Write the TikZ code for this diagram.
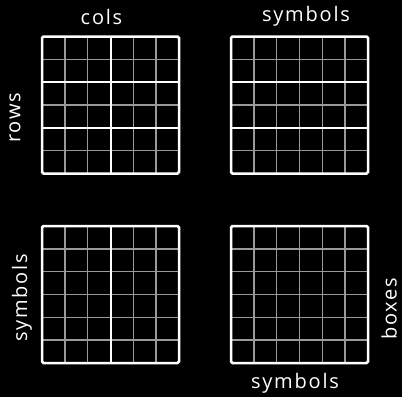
\documentclass[tikz,border=0pt]{standalone}
\usepackage{fontspec}
\setmainfont{Open Sans}
\usetikzlibrary{calc}
\begin{document}
\begin{tikzpicture}[x=1pt,y=-1pt,
  thinline/.style={draw=gray!80!white,line width=1.4pt},
  thickline/.style={draw=white,line width=2pt},
  frame/.style={draw=white,line width=2.5pt,rounded corners=1.5pt,minimum size=137pt,inner sep=0pt,outer sep=0pt},
  lbl/.style={text=white,font=\fontsize{20}{24}\selectfont\addfontfeature{LetterSpace=9},inner sep=0pt}]
\fill[black] (0,0) rectangle (402,397);
\useasboundingbox (0,0) rectangle (402,397);
% grid nodes
\coordinate (g1) at (110.5,105);
\coordinate (g2) at (299.5,105);
\coordinate (g3) at (110.5,294.5);
\coordinate (g4) at (299.5,294.5);
\foreach \g in {g1,g2,g3,g4}{
  \foreach \i in {1,...,5}{
    \draw[thinline] ($(\g)+(-68.5+\i*22.8333,-68.5)$) -- ($(\g)+(-68.5+\i*22.8333,68.5)$);
    \draw[thinline] ($(\g)+(-68.5,-68.5+\i*22.8333)$) -- ($(\g)+(68.5,-68.5+\i*22.8333)$);
  }
}
% thick separators
\draw[thickline] ($(g1)+(0,-68.5)$) -- ($(g1)+(0,68.5)$);
\draw[thickline] ($(g1)+(-68.5,-22.8333)$) -- ($(g1)+(68.5,-22.8333)$);
\draw[thickline] ($(g1)+(-68.5,22.8333)$) -- ($(g1)+(68.5,22.8333)$);
\draw[thickline] ($(g2)+(-68.5,-22.8333)$) -- ($(g2)+(68.5,-22.8333)$);
\draw[thickline] ($(g2)+(-68.5,22.8333)$) -- ($(g2)+(68.5,22.8333)$);
\draw[thickline] ($(g3)+(0,-68.5)$) -- ($(g3)+(0,68.5)$);
% frames
\node[frame] (f1) at (g1) {};
\node[frame] (f2) at (g2) {};
\node[frame] (f3) at (g3) {};
\node[frame] (f4) at (g4) {};
% labels
\node[lbl] (cols) at (101.5,17) {cols};
\node[lbl,rotate=90] (rows) at (15,118) {rows};
\node[lbl] (sym1) at (306,16) {symbols};
\node[lbl,rotate=90] (sym2) at (22,298) {symbols};
\node[lbl] (sym3) at (295,383) {symbols};
\node[lbl,rotate=90] (boxes) at (389,309) {boxes};
\end{tikzpicture}
\end{document}
